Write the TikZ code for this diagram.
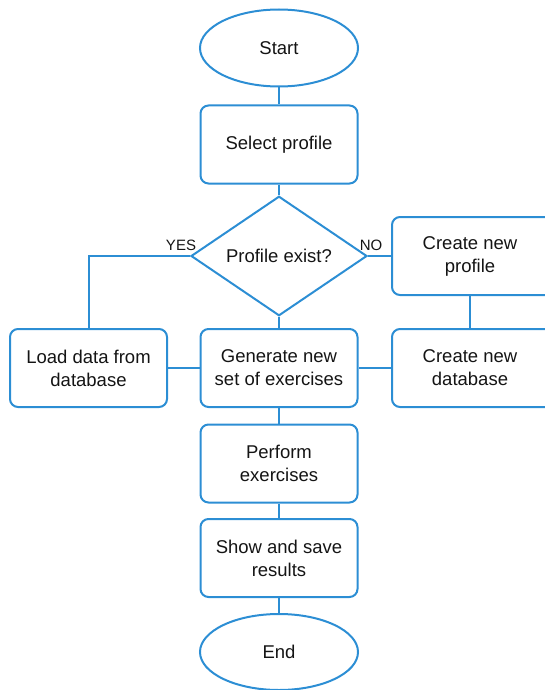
\documentclass[tikz,border=0pt]{standalone}
\usepackage{fontspec}
\setmainfont{Liberation Sans}
\usetikzlibrary{shapes.geometric}
\definecolor{fcblue}{RGB}{44,142,212}
\definecolor{fctext}{RGB}{20,20,20}
\begin{document}
\begin{tikzpicture}[x=1pt,y=-1pt,
  box/.style={draw=fcblue, line width=2pt, rounded corners=8pt, minimum width=157pt, minimum height=78pt, align=center, font=\fontsize{18.5}{23}\selectfont, text=fctext, inner sep=0pt},
  term/.style={draw=fcblue, line width=2pt, ellipse, minimum width=158pt, minimum height=77pt, inner sep=0pt, font=\fontsize{18.5}{23}\selectfont, text=fctext},
  dec/.style={draw=fcblue, line width=2pt, diamond, minimum width=176pt, minimum height=112pt, inner sep=0pt, font=\fontsize{18.5}{23}\selectfont, text=fctext},
  conn/.style={draw=fcblue, line width=2pt},
  lab/.style={font=\fontsize{15}{17}\selectfont, text=fctext, inner sep=0pt}]
\useasboundingbox (0,0) rectangle (544,690);
\node[term] (start) at (279,48) {Start};
\node[box] (select) at (279,144.5) {Select profile};
\node[dec] (dia) at (279,256) {Profile exist?};
\node[box] (gen) at (279,368) {Generate new\\set of exercises};
\node[box] (load) at (88.5,368) {Load data from\\database};
\node[box, minimum width=190pt] (cprof) at (487,256) {Create new\kern34pt\\profile\kern34pt};
\node[box, minimum width=190pt] (cdb) at (487,368) {Create new\kern34pt\\database\kern34pt};
\node[box] (perform) at (279,463.5) {Perform\\exercises};
\node[box] (show) at (279,558) {Show and save\\results};
\node[term, minimum height=76pt] (end) at (279,652) {End};
\node[lab] (yes) at (181,245) {YES};
\node[lab] (no) at (371,245) {NO};
\coordinate (vtop) at ([xshift=-17pt]cprof.south);
\coordinate (vbot) at ([xshift=-17pt]cdb.north);
\draw[conn] (start) -- (select);
\draw[conn] (select) -- (dia);
\draw[conn] (dia) -- (gen);
\draw[conn] (dia.west) -| (load.north);
\draw[conn] (dia.east) -- (cprof.west);
\draw[conn] (vtop) -- (vbot);
\draw[conn] (load) -- (gen);
\draw[conn] (cdb.west) -- (gen.east);
\draw[conn] (gen) -- (perform);
\draw[conn] (perform) -- (show);
\draw[conn] (show) -- (end);
\end{tikzpicture}
\end{document}
